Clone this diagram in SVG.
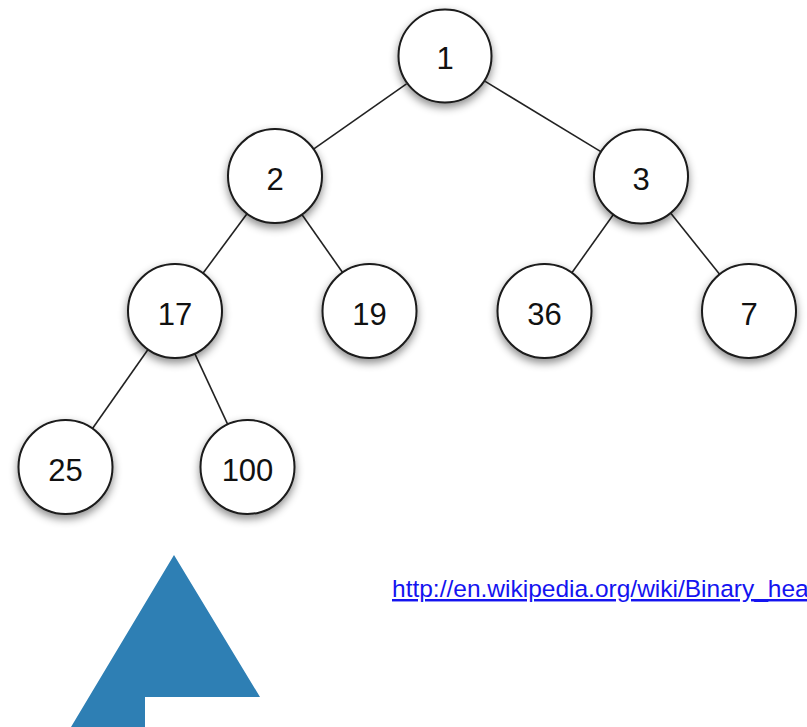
<svg xmlns="http://www.w3.org/2000/svg" width="807" height="727" viewBox="0 0 807 727">
  <style>
    .edge { stroke: #222222; stroke-width: 1.6; fill: none; }
    .node circle { fill: #ffffff; stroke: #1a1a1a; stroke-width: 2; filter: url(#shadow); }
    .node text { font-family: "Liberation Sans", Arial, sans-serif; font-size: 31px; fill: #111111; text-anchor: middle; }
    .link { font-family: "Liberation Sans", Arial, sans-serif; font-size: 24.5px; fill: #1414f0; text-decoration: underline; }
  </style>
  <defs>
    <filter id="shadow" x="-30%" y="-30%" width="160%" height="170%">
      <feDropShadow dx="0" dy="4" stdDeviation="4" flood-color="#000000" flood-opacity="0.45"/>
    </filter>
  </defs>
  <rect width="807" height="727" fill="#ffffff"/>

  <!-- tree edges -->
  <g id="connectors">
    <line class="edge" x1="406.5" y1="83.9" x2="313.5" y2="149.1"/>
    <line class="edge" x1="485.2" y1="81.4" x2="600.8" y2="151.6"/>
    <line class="edge" x1="247" y1="213.8" x2="203" y2="273.2"/>
    <line class="edge" x1="301.9" y1="214.5" x2="342.6" y2="272.5"/>
    <line class="edge" x1="613.6" y1="214.3" x2="571.9" y2="272.7"/>
    <line class="edge" x1="670.4" y1="212.7" x2="719.6" y2="274.3"/>
    <line class="edge" x1="148" y1="349.5" x2="92.5" y2="428.5"/>
    <line class="edge" x1="194.8" y1="353.6" x2="227.7" y2="424.4"/>
  </g>

  <!-- heap nodes -->
  <g id="n1" class="node"><circle cx="445" cy="56" r="46.5"/><text x="445" y="69">1</text></g>
  <g id="n2" class="node"><circle cx="275" cy="176" r="47"/><text x="275" y="190">2</text></g>
  <g id="n3" class="node"><circle cx="641" cy="176.5" r="47"/><text x="641" y="190">3</text></g>
  <g id="n17" class="node"><circle cx="175" cy="311" r="47"/><text x="175" y="325">17</text></g>
  <g id="n19" class="node"><circle cx="369.5" cy="311" r="47"/><text x="369.5" y="325">19</text></g>
  <g id="n36" class="node"><circle cx="544.5" cy="311" r="47"/><text x="544.5" y="325">36</text></g>
  <g id="n7" class="node"><circle cx="749" cy="311" r="47"/><text x="749" y="325">7</text></g>
  <g id="n25" class="node"><circle cx="65.5" cy="467" r="47"/><text x="65.5" y="481">25</text></g>
  <g id="n100" class="node"><circle cx="247.5" cy="467" r="47"/><text x="247.5" y="481">100</text></g>

  <!-- source link, running past the right edge -->
  <text class="link" x="392" y="597">http://en.wikipedia.org/wiki/Binary_heap</text>

  <!-- up arrow -->
  <polygon points="174,555 260,697 145,697 145,727 71,727" fill="#2e7fb4"/>
</svg>
